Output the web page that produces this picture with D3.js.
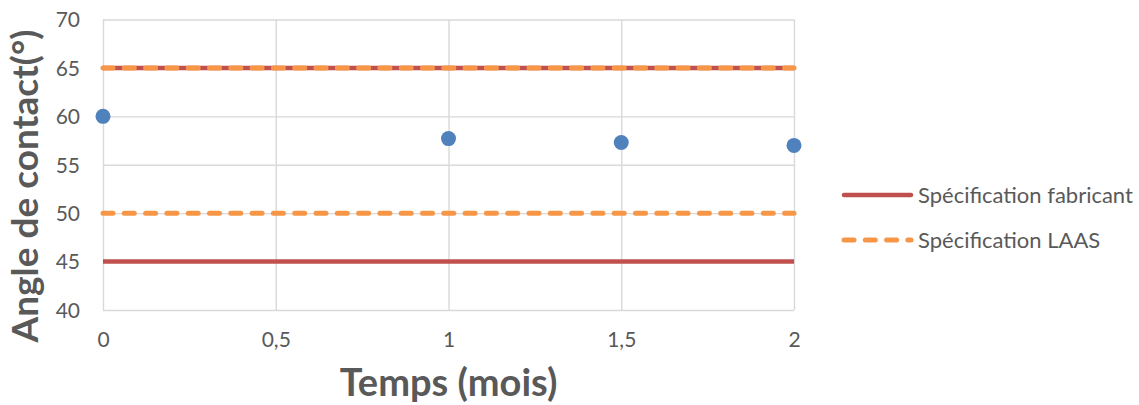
<!DOCTYPE html>
<html>
<head>
<meta charset="utf-8">
<script src="https://cdn.jsdelivr.net/npm/d3@7"></script>
<style>
  body { margin: 0; background: #fff; }
  text { font-family: Lato, "Open Sans", sans-serif; fill: #595959; }
</style>
</head>
<body>
<div id="container"></div>
<script>
// data
const months = [0, 1, 1.5, 2];
const contactAngle = [60, 57.7, 57.3, 57.0];

const specX = [0, 2];
const specFabricantLow = [45, 45];
const specFabricantHigh = [65, 65];
const specLaasLow = [50, 50];
const specLaasHigh = [65, 65];

const xTicks = [0, 0.5, 1, 1.5, 2];
const yTicks = [40, 45, 50, 55, 60, 65, 70];

const legendLabels = ["Spécification fabricant", "Spécification LAAS"];

function renderChart() {
    const width = 1139;
    const height = 405;
    const marginTop = 19.5;
    const marginLeft = 103;
    const plotRight = 794;
    const plotBottom = 310;

    const red = "#C0504D";
    const orange = "#F79646";
    const blue = "#4F81BD";
    const grid = "#D9D9D9";

    const x = d3.scaleLinear([0, 2], [marginLeft, plotRight]);
    const y = d3.scaleLinear([40, 70], [plotBottom, marginTop]);

    const fr = d3.formatLocale({decimal: ",", thousands: " ", grouping: [3], currency: ["", " €"]});

    const svg = d3.create("svg")
        .attr("width", width)
        .attr("height", height)
        .attr("viewBox", [0, 0, width, height]);

    // vertical grid + x tick labels
    svg.append("g")
        .attr("transform", `translate(0,${plotBottom})`)
        .call(d3.axisBottom(x).tickValues(xTicks).tickFormat(fr.format(".1~f"))
            .tickSize(-(plotBottom - marginTop)).tickPadding(0))
        .call(g => g.select(".domain").remove())
        .call(g => g.selectAll(".tick line").attr("stroke", grid).attr("stroke-width", 1.4))
        .call(g => g.selectAll(".tick text")
            .attr("y", 30).attr("dy", "0.35em")
            .style("font-size", "21px"));

    // horizontal grid + y tick labels
    svg.append("g")
        .attr("transform", `translate(${marginLeft},0)`)
        .call(d3.axisLeft(y).tickValues(yTicks)
            .tickSize(-(plotRight - marginLeft)).tickPadding(23))
        .call(g => g.select(".domain").remove())
        .call(g => g.selectAll(".tick line").attr("stroke", grid).attr("stroke-width", 1.4))
        .call(g => g.selectAll(".tick text")
            .attr("dy", "0.35em")
            .style("font-size", "21px"));

    const line = d3.line().x(d => x(d[0])).y(d => y(d[1]));

    // Spécification fabricant
    [specFabricantLow, specFabricantHigh].forEach(vals => {
        svg.append("path")
            .attr("fill", "none")
            .attr("stroke", red)
            .attr("stroke-width", 4.5)
            .attr("d", line(d3.zip(specX, vals)));
    });

    // Spécification LAAS
    [specLaasLow, specLaasHigh].forEach(vals => {
        svg.append("path")
            .attr("fill", "none")
            .attr("stroke", orange)
            .attr("stroke-width", 5)
            .attr("stroke-linecap", "round")
            .attr("stroke-dasharray", "10 11.3")
            .attr("d", line(d3.zip(specX, vals)));
    });

    // measured points
    svg.append("g")
        .selectAll("circle")
        .data(d3.zip(months, contactAngle))
        .join("circle")
        .attr("cx", d => x(d[0]))
        .attr("cy", d => y(d[1]))
        .attr("r", 7.5)
        .attr("fill", blue);

    // legend
    const legend = svg.append("g")
        .selectAll("g")
        .data(legendLabels)
        .join("g")
        .attr("transform", (d, i) => `translate(842,${195 + i * 45})`);

    legend.append("line")
        .attr("x1", 2).attr("x2", 69)
        .attr("stroke", (d, i) => i === 0 ? red : orange)
        .attr("stroke-width", (d, i) => i === 0 ? 4.5 : 5)
        .attr("stroke-linecap", "round")
        .attr("stroke-dasharray", (d, i) => i === 0 ? null : "10 11.3");

    legend.append("text")
        .attr("x", 76)
        .attr("dy", "0.35em")
        .style("font-size", "22px")
        .text(d => d);

    // axis titles
    svg.append("text")
        .attr("x", x(1))
        .attr("y", 396)
        .attr("text-anchor", "middle")
        .style("font-size", "38px")
        .style("font-weight", "bold")
        .text("Temps (mois)");

    svg.append("text")
        .attr("transform", `translate(38,${186}) rotate(-90)`)
        .attr("text-anchor", "middle")
        .style("font-size", "37px")
        .style("font-weight", "bold")
        .text("Angle de contact(°)");

    document.getElementById("container").append(svg.node());
}

renderChart();
</script>
</body>
</html>
